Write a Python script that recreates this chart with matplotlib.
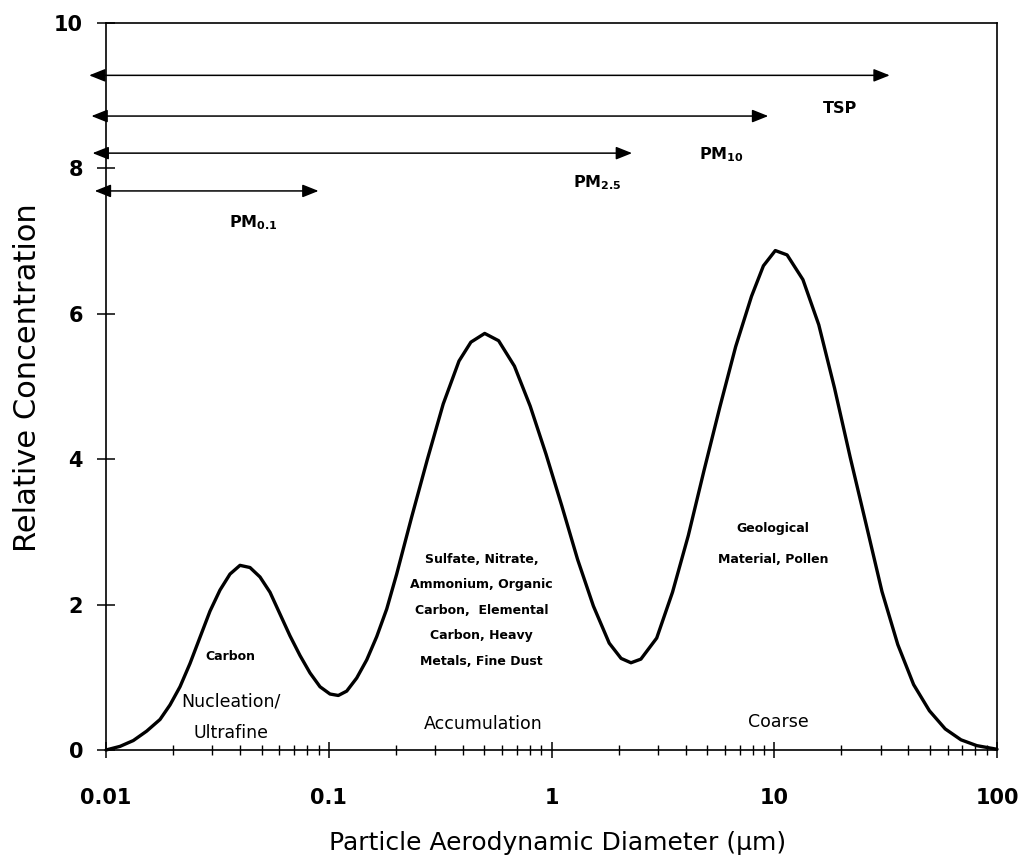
import numpy as np
import matplotlib
matplotlib.use("Agg")
import matplotlib.pyplot as plt

plt.rcParams['font.family'] = ['DejaVu Sans']
plt.rcParams['mathtext.default'] = 'regular'

# curve (diameter in um, relative concentration)
diam = [0.0100, 0.01156, 0.01326, 0.01523, 0.01748, 0.01938, 0.02149, 0.02383, 0.02642, 0.02930,
        0.03249, 0.03603, 0.03995, 0.04430, 0.04913, 0.05448, 0.06041, 0.06699, 0.07429, 0.08238,
        0.09135, 0.1013, 0.1104, 0.1204, 0.1335, 0.1481, 0.1642, 0.1821, 0.2018, 0.2354,
        0.2773, 0.3265, 0.3843, 0.4346, 0.5013, 0.5788, 0.6817, 0.8024, 0.9447, 1.112,
        1.310, 1.542, 1.816, 2.053, 2.274, 2.519, 2.967, 3.493, 4.113, 4.843,
        5.702, 6.713, 7.904, 8.940, 10.11, 11.42, 13.45, 15.84, 18.64, 21.95,
        25.87, 30.45, 35.86, 42.23, 49.72, 58.55, 68.92, 81.16, 100.0]
conc = [0.00, 0.05, 0.13, 0.26, 0.42, 0.62, 0.87, 1.19, 1.55, 1.91,
        2.20, 2.42, 2.54, 2.51, 2.38, 2.17, 1.87, 1.57, 1.30, 1.06,
        0.87, 0.77, 0.75, 0.81, 0.99, 1.24, 1.56, 1.94, 2.42, 3.20,
        4.00, 4.76, 5.35, 5.61, 5.73, 5.63, 5.28, 4.73, 4.07, 3.36,
        2.62, 1.98, 1.47, 1.26, 1.20, 1.25, 1.54, 2.17, 2.95, 3.85,
        4.72, 5.55, 6.24, 6.66, 6.87, 6.81, 6.47, 5.85, 4.98, 4.02,
        3.10, 2.18, 1.45, 0.90, 0.54, 0.29, 0.14, 0.06, 0.01]

# size-fraction arrows
frac_labels = ['TSP', r'PM$_{10}$', r'PM$_{2.5}$', r'PM$_{0.1}$']
frac_y = [9.28, 8.72, 8.21, 7.69]
frac_lo = [0.0084, 0.0086, 0.0087, 0.0089]
frac_hi = [33.0, 9.4, 2.3, 0.09]
frac_lab_x = [19.7, 5.8, 1.6, 0.0457]
frac_lab_y = [8.83, 8.19, 7.80, 7.25]

xticks = [0.01, 0.1, 1, 10, 100]
xticklabels = ['0.01', '0.1', '1', '10', '100']
yticks = [0, 2, 4, 6, 8, 10]

fig = plt.figure(figsize=(10.25, 8.61), dpi=100)
ax = fig.add_axes([106 / 1025, 1 - 750 / 861, 891 / 1025, 727 / 861])

ax.plot(diam, conc, color='black', lw=2.4, solid_capstyle='round',
        solid_joinstyle='round', clip_on=False)

for lo, hi, yy in zip(frac_lo, frac_hi, frac_y):
    ax.annotate('', xy=(hi, yy), xytext=(lo, yy), annotation_clip=False,
                arrowprops=dict(arrowstyle='<|-|>,head_length=0.7,head_width=0.28',
                                color='black', lw=1.1, shrinkA=0, shrinkB=0,
                                mutation_scale=14))
for lab, lx, ly in zip(frac_labels, frac_lab_x, frac_lab_y):
    ax.text(lx, ly, lab, ha='center', va='center', fontsize=11.5, fontweight='bold')

# mode descriptions
ax.text(0.036, 1.28, 'Carbon', ha='center', va='center', fontsize=9, fontweight='bold')
ax.text(0.0365, 0.45, 'Nucleation/\nUltrafine', ha='center', va='center',
        fontsize=12.5, linespacing=1.9)
ax.text(0.486, 1.92, 'Sulfate, Nitrate,\nAmmonium, Organic\nCarbon,  Elemental\nCarbon, Heavy\nMetals, Fine Dust',
        ha='center', va='center', fontsize=9, fontweight='bold', linespacing=2.25)
ax.text(0.493, 0.36, 'Accumulation', ha='center', va='center', fontsize=12.5)
ax.text(9.9, 2.84, 'Geological\nMaterial, Pollen', ha='center', va='center',
        fontsize=9, fontweight='bold', linespacing=2.8)
ax.text(10.4, 0.38, 'Coarse', ha='center', va='center', fontsize=12.5)

ax.set_xscale('log')
ax.set_xlim(0.01, 100)
ax.set_ylim(0, 10)
ax.set_xticks(xticks)
ax.set_xticklabels(xticklabels)
ax.set_yticks(yticks)
ax.tick_params(axis='x', which='major', direction='inout', length=12, width=1.1,
               pad=21, labelsize=15)
ax.tick_params(axis='x', which='minor', direction='inout', length=7, width=1.0)
ax.tick_params(axis='y', which='major', direction='inout', length=13, width=1.1,
               pad=10, labelsize=15)
ax.yaxis.set_minor_locator(matplotlib.ticker.NullLocator())
for lab in ax.get_xticklabels() + ax.get_yticklabels():
    lab.set_fontweight('bold')
for sp in ax.spines.values():
    sp.set_linewidth(1.2)

fig.text(558 / 1025, 1 - 843 / 861, 'Particle Aerodynamic Diameter (μm)',
         ha='center', va='center', fontsize=18)
fig.text(28 / 1025, 1 - 378 / 861, 'Relative Concentration', rotation=90,
         ha='center', va='center', fontsize=22)

fig.savefig('out.png', dpi=100)
